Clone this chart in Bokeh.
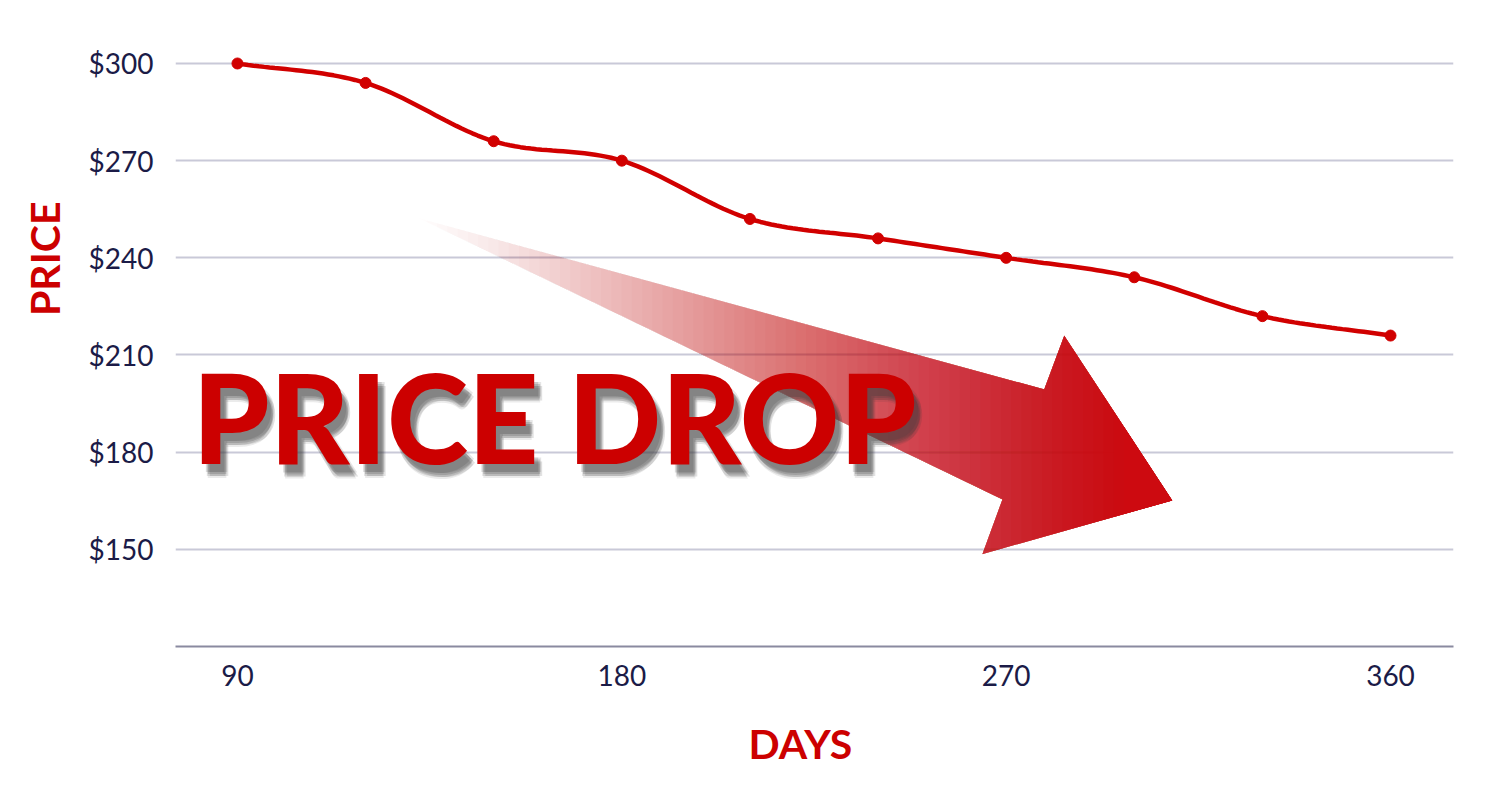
import numpy as np
from bokeh.plotting import figure
from bokeh.models import Label, FixedTicker, Range1d, CustomJSTickFormatter, Title
from bokeh.embed import file_html
from bokeh.resources import INLINE

# ---- data ----
days = [90, 120, 150, 180, 210, 240, 270, 300, 330, 360]
price = [300, 294, 276, 270, 252, 246, 240, 234, 222, 216]
x_ticks = [90, 180, 270, 360]
y_ticks = [150, 180, 210, 240, 270, 300]

# decorative arrow outline (data units)
arrow_x = [131.9, 278.9, 283.6, 308.9, 264.4, 269.1]
arrow_y = [252.5, 199.4, 216.0, 165.1, 148.5, 165.4]

RED = "#CC0000"
LINE_RED = "#D10000"
NAVY = "#1B1B47"

W, H = 1484, 775
p = figure(width=W, height=H, output_backend="svg", toolbar_location=None,
           x_range=Range1d(75.49, 374.75), y_range=Range1d(120, 312.04),
           min_border_left=175, min_border_right=W - 1453, min_border_top=24,
           min_border_bottom=H - 646)
p.outline_line_color = None
p.background_fill_color = "white"
p.border_fill_color = "white"

# axes
p.xaxis.ticker = FixedTicker(ticks=x_ticks)
p.yaxis.ticker = FixedTicker(ticks=y_ticks)
p.yaxis.formatter = CustomJSTickFormatter(code="return '$' + tick;")
for ax in (p.xaxis[0], p.yaxis[0]):
    ax.major_tick_line_color = None
    ax.minor_tick_line_color = None
    ax.major_label_text_font = "Lato"
    ax.major_label_text_font_size = "28px"
    ax.major_label_text_color = NAVY
p.yaxis.axis_line_color = None
p.xaxis.axis_line_color = "#8A8AA0"
p.xaxis.axis_line_width = 2
p.xaxis.major_label_standoff = 12
p.yaxis.major_label_standoff = 16
p.xgrid.grid_line_color = None
p.ygrid.ticker = FixedTicker(ticks=y_ticks)
p.ygrid.grid_line_color = "#C9C9D8"
p.ygrid.grid_line_width = 2

# blank spacer between the x axis and its title
p.add_layout(Title(text=" ", text_font_size="22px", standoff=0), "below")

# axis titles
p.add_layout(Title(text="PRICE", align="right", offset=177, standoff=34,
                   text_font="Lato", text_font_style="bold", text_font_size="41px",
                   text_color=RED), "left")
p.add_layout(Title(text="DAYS", align="left", offset=573, standoff=2,
                   text_font="Lato", text_font_style="bold", text_font_size="41px",
                   text_color=RED), "below")

# ---- gradient arrow: nested clipped layers ----
def clip_right(xs, ys, xc):
    out_x, out_y = [], []
    n = len(xs)
    for i in range(n):
        x1, y1 = xs[i], ys[i]
        x2, y2 = xs[(i + 1) % n], ys[(i + 1) % n]
        in1, in2 = x1 >= xc, x2 >= xc
        if in1:
            out_x.append(x1); out_y.append(y1)
        if in1 != in2:
            t = (xc - x1) / (x2 - x1)
            out_x.append(xc); out_y.append(y1 + t * (y2 - y1))
    return out_x, out_y

N = 70
x0 = min(arrow_x)
x1 = 300.0
edges = np.linspace(x0, x1, N + 1)
targets = [min(1.0, ((k + 1) / N) ** 1.1) for k in range(N)]
layer_xs, layer_ys, layer_alpha = [], [], []
prev = 0.0
for k in range(N):
    A = targets[k]
    a = 1 - (1 - A) / (1 - prev) if prev < 1 else 0.0
    cx, cy = clip_right(arrow_x, arrow_y, edges[k])
    if len(cx) >= 3:
        layer_xs.append(cx); layer_ys.append(cy); layer_alpha.append(a)
    prev = A
p.patches(layer_xs, layer_ys, fill_color="#CD0A10", fill_alpha=layer_alpha,
          line_color=None)

# ---- smooth price line (monotone cubic through the data) ----
def monotone_curve(xs, ys, per=24):
    xs = np.asarray(xs, float); ys = np.asarray(ys, float)
    h = np.diff(xs); d = np.diff(ys) / h
    m = np.zeros(len(xs))
    m[0] = d[0]; m[-1] = d[-1]
    for i in range(1, len(xs) - 1):
        m[i] = 0 if d[i - 1] * d[i] <= 0 else (d[i - 1] + d[i]) / 2
    for i in range(len(d)):
        if d[i] == 0:
            m[i] = m[i + 1] = 0
        else:
            a, b = m[i] / d[i], m[i + 1] / d[i]
            s = a * a + b * b
            if s > 9:
                tau = 3 / np.sqrt(s)
                m[i] = tau * a * d[i]; m[i + 1] = tau * b * d[i]
    ox, oy = [], []
    for i in range(len(d)):
        t = np.linspace(0, 1, per, endpoint=False)
        h00 = 2 * t**3 - 3 * t**2 + 1; h10 = t**3 - 2 * t**2 + t
        h01 = -2 * t**3 + 3 * t**2; h11 = t**3 - t**2
        ox.extend(xs[i] + t * h[i])
        oy.extend(h00 * ys[i] + h10 * h[i] * m[i] + h01 * ys[i + 1] + h11 * h[i] * m[i + 1])
    ox.append(xs[-1]); oy.append(ys[-1])
    return ox, oy

cx, cy = monotone_curve(days, price)
p.line(cx, cy, line_color=LINE_RED, line_width=4.5)
p.scatter(days, price, size=11, fill_color=LINE_RED, line_color=LINE_RED)

# ---- big caption ----
TX, TY = 79.5, 191.0
FONT = "Lato Black"
FS = "123px"
for dx, dy, al in [(4, -8, 0.16), (6, -10, 0.2), (8, -12, 0.15), (5, -12, 0.15), (7, -8, 0.13), (6, -14, 0.1)]:
    p.add_layout(Label(x=TX, y=TY, text="PRICE DROP", text_font=FONT,
                       text_font_style="bold", text_font_size=FS,
                       text_color="#3A3A3A", text_alpha=al, x_offset=dx, y_offset=dy,
                       text_align="left", text_baseline="middle"))
p.add_layout(Label(x=TX, y=TY, text="PRICE DROP", text_font=FONT,
                   text_font_style="bold", text_font_size=FS, text_color=RED,
                   text_align="left", text_baseline="middle"))

open("out.html", "w").write(file_html(p, INLINE))
